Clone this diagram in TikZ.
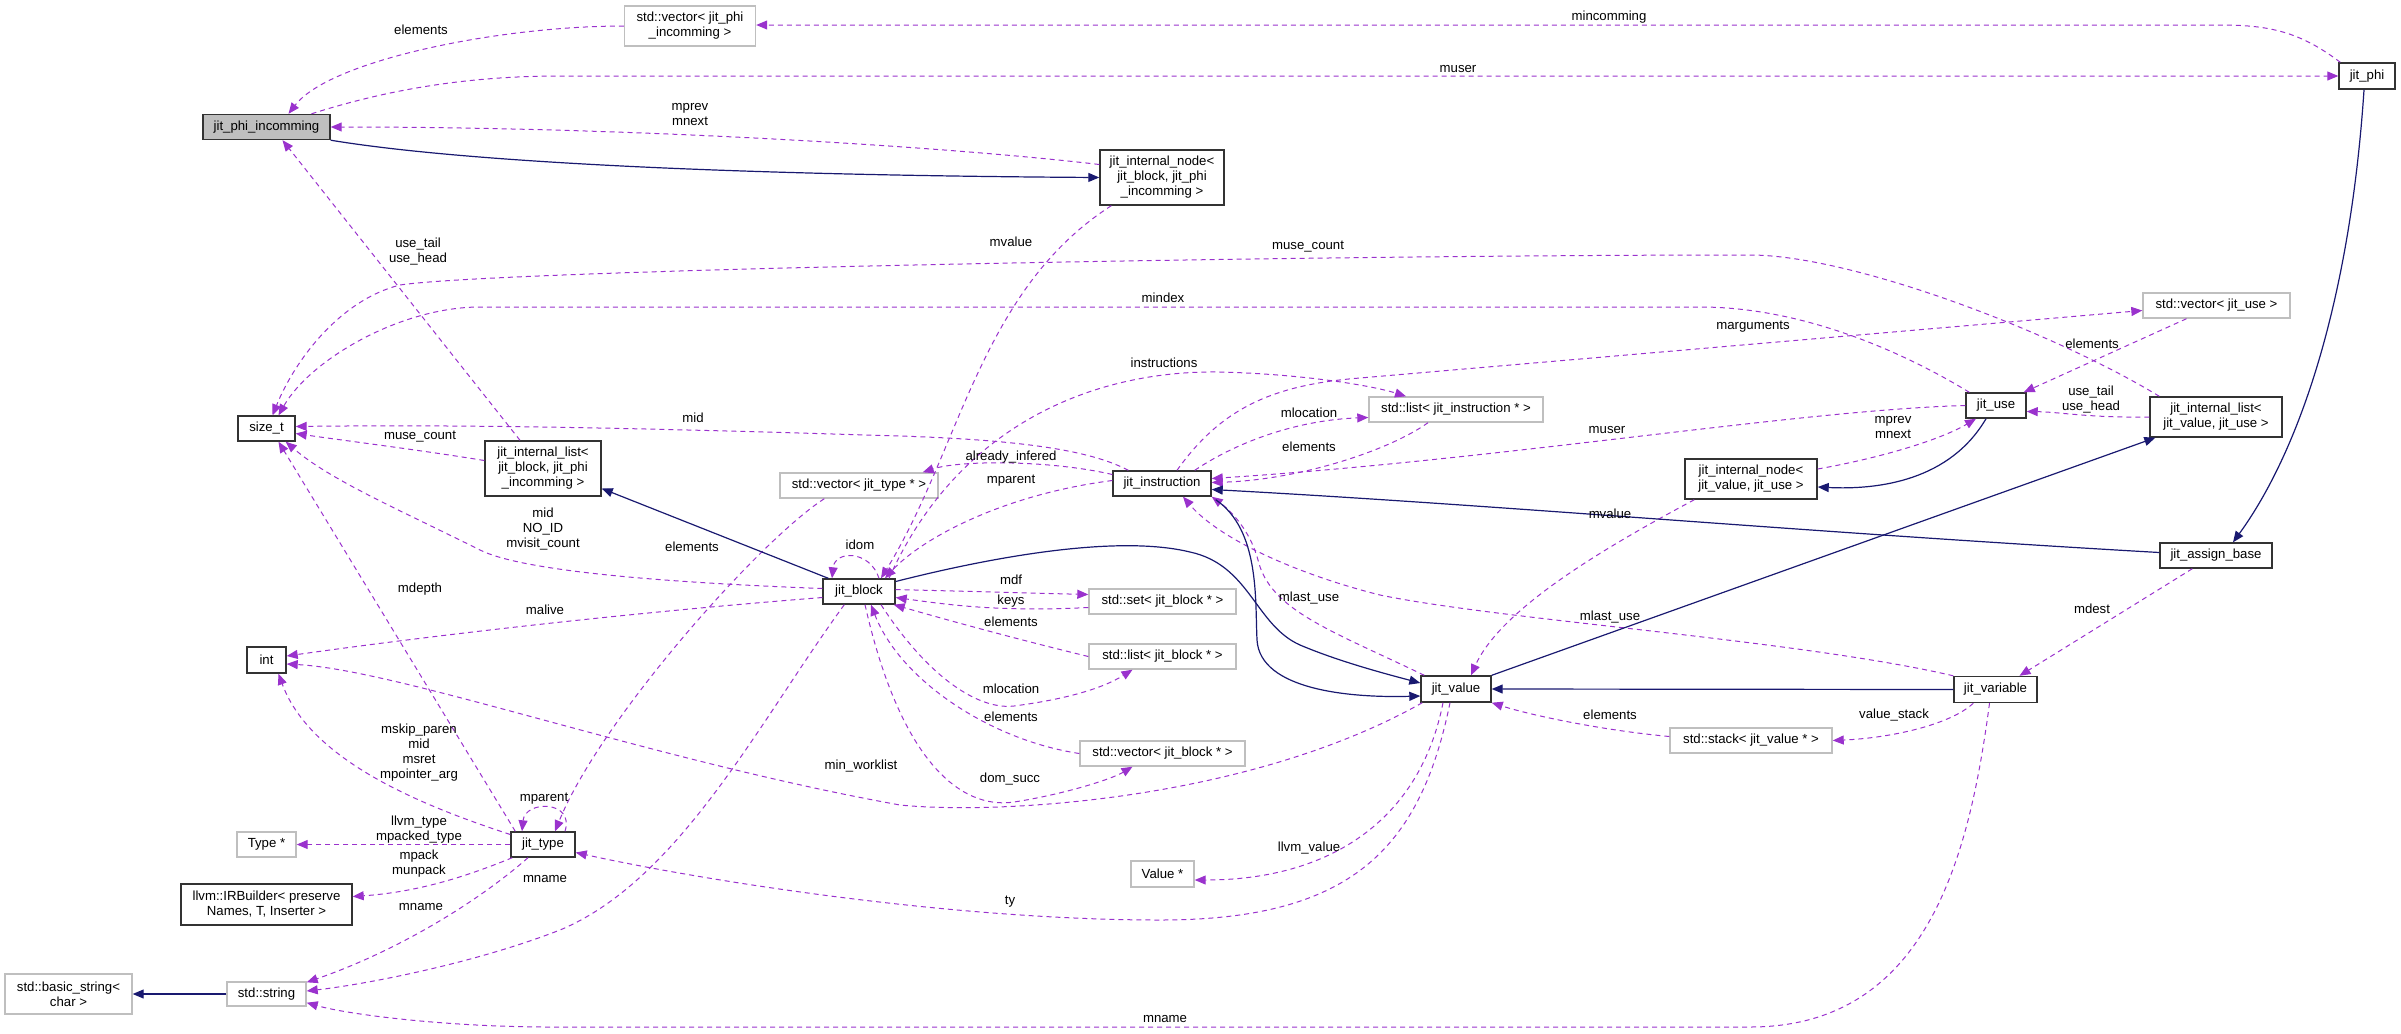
\documentclass[tikz,border=0pt]{standalone}
\usepackage{fontspec}
\setmainfont{Liberation Sans}
\usetikzlibrary{arrows.meta,calc}
\definecolor{membr}{RGB}{154,50,205}
\definecolor{inhr}{RGB}{25,25,112}

\begin{document}
\begin{tikzpicture}[
    x=.5pt,y=-.5pt,
    every node/.style={font=\fontsize{6.6}{7.5}\selectfont,align=center,inner sep=1pt},
    cls/.style={draw=black!80,line width=.7pt,minimum height=12.5pt},
    ext/.style={draw=black!25,line width=.7pt,minimum height=12.5pt},
    ref/.style={-{Triangle[length=5.5pt,width=4.5pt]},dash pattern=on 2.5pt off 2pt,line width=.5pt,membr},
    inh/.style={-{Triangle[length=5.5pt,width=4.5pt]},line width=.6pt,inhr}
  ]
    \useasboundingbox (0,0) rectangle (2401,1033);
    % classes
    \node[cls,fill=black!25,minimum width=63.5pt] (pi) at (266.5,127) {jit\_phi\_incomming};
    \node[ext,minimum width=65.5pt,minimum height=20pt] (vpi) at (690,26) {std::vector< jit\_phi\\\_incomming >};
    \node[cls,minimum width=62pt,minimum height=27.5pt] (inb) at (1162,177.5) {jit\_internal\_node<\\jit\_block, jit\_phi\\\_incomming >};
    \node[cls,minimum width=28pt,minimum height=13pt] (phi) at (2367,76) {jit\_phi};
    \node[ext,minimum width=73.5pt] (vuse) at (2216.5,305.5) {std::vector< jit\_use >};
    \node[cls,minimum width=28.5pt] (sz) at (266.5,428.5) {size\_t};
    \node[cls,minimum width=58pt,minimum height=27.5pt] (lb) at (543,468.5) {jit\_internal\_list<\\jit\_block, jit\_phi\\\_incomming >};
    \node[cls,minimum width=19.5pt,minimum height=13pt] (int) at (266.5,660) {int};
    \node[ext,minimum width=79pt] (vty) at (859,485.5) {std::vector< jit\_type * >};
    \node[cls,minimum width=49pt] (ins) at (1162,483.5) {jit\_instruction};
    \node[ext,minimum width=87pt] (lins) at (1456,409.5) {std::list< jit\_instruction * >};
    \node[cls,minimum width=36pt] (blk) at (859,591.5) {jit\_block};
    \node[ext,minimum width=73.5pt] (sblk) at (1162.5,601.5) {std::set< jit\_block * >};
    \node[ext,minimum width=73.5pt] (lblk) at (1162.5,656.5) {std::list< jit\_block * >};
    \node[cls,minimum width=35pt,minimum height=13pt] (val) at (1456,689) {jit\_value};
    \node[cls,minimum width=30pt] (use) at (1996,405.5) {jit\_use};
    \node[cls,minimum width=66pt,minimum height=20pt] (lv) at (2216,417) {jit\_internal\_list<\\jit\_value, jit\_use >};
    \node[cls,minimum width=66pt,minimum height=20pt] (nv) at (1751,479) {jit\_internal\_node<\\jit\_value, jit\_use >};
    \node[cls,minimum width=56pt] (asg) at (2216,555.5) {jit\_assign\_base};
    \node[cls,minimum width=41.5pt,minimum height=13pt] (var) at (1995.5,689.5) {jit\_variable};
    \node[ext,minimum width=29.5pt] (typ) at (266.5,844.5) {Type *};
    \node[cls,minimum width=32pt] (jty) at (543,844.5) {jit\_type};
    \node[cls,minimum width=85.5pt,minimum height=20.5pt] (irb) at (266.5,904.5) {llvm::IRBuilder< preserve\\Names, T, Inserter >};
    \node[ext,minimum width=63.5pt,minimum height=20pt] (bstr) at (68.5,994) {std::basic\_string<\\char >};
    \node[ext,minimum width=39.5pt,minimum height=12pt] (str) at (266.5,994) {std::string};
    \node[ext,minimum width=82.5pt] (vblk) at (1162.5,753.5) {std::vector< jit\_block * >};
    \node[ext,minimum width=31.5pt,minimum height=13pt] (valp) at (1162.5,874) {Value *};
    \node[ext,minimum width=81pt] (stk) at (1751,740.5) {std::stack< jit\_value * >};
    % members
    \draw[ref] (vpi.west) .. controls (500,26) and (330,60) .. ($(pi.north)+(22,0)$);
    \draw[ref] ($(phi.north west)+(2,0)$) .. controls (2300,32) and (2270,25) .. (2220,25) -- ($(vpi.east)+(0,-1)$);
    \draw[ref] ($(pi.north)+(45,0)$) .. controls (380,92) and (460,76) .. (560,76) -- (phi.west);
    \draw[ref] ($(inb.west)+(0,-13)$) .. controls (960,148) and (650,127) .. (pi.east);
    \draw[ref] ($(lb.north)+(-23,0)$) -- ($(pi.south)+(16,0)$);
    \draw[ref] ($(inb.south west)+(12,0)$) .. controls (980,290) and (960,450) .. ($(blk.north)+(22,0)$);
    \draw[ref] ($(use.north west)+(4,0)$) .. controls (1900,350) and (1800,307) .. (1700,307) -- (480,307) .. controls (400,307) and (310,360) .. ($(sz.north)+(12,0)$);
    \draw[ref] ($(lv.north west)+(10,0)$) .. controls (2050,330) and (1850,255) .. (1750,255) .. controls (1300,255) and (500,270) .. (400,285) .. controls (340,300) and (295,360) .. ($(sz.north)+(6,0)$);
    \draw[ref] ($(ins.north)+(15,0)$) .. controls (1220,410) and (1270,385) .. (1360,378) -- ($(vuse.west)+(0,5)$);
    \draw[ref] ($(vuse.south)+(-30,0)$) -- ($(use.north east)+(-3,0)$);
    \draw[ref] (lv.west) .. controls (2090,418) and (2060,412) .. ($(use.east)+(0,6)$);
    \draw[ref] (use.west) .. controls (1800,410) and (1500,460) .. ($(ins.east)+(0,-5)$);
    \draw[ref] ($(lins.south)+(-28,0)$) .. controls (1390,450) and (1300,480) .. ($(ins.east)+(0,-1)$);
    \draw[ref] ($(ins.north east)+(-17,0)$) .. controls (1240,440) and (1300,420) .. ($(lins.west)+(0,8)$);
    \draw[ref] ($(blk.north)+(30,0)$) .. controls (960,420) and (1100,370) .. (1220,372) .. controls (1300,374) and (1370,385) .. ($(lins.north)+(-50,0)$);
    \draw[ref] ($(ins.west)+(0,-3)$) .. controls (1000,495) and (920,540) .. ($(blk.north)+(26,0)$);
    \draw[ref] ($(ins.west)+(0,-9)$) .. controls (1050,460) and (960,460) .. ($(vty.north east)+(-16,0)$);
    \draw[ref] ($(ins.north west)+(16,0)$) .. controls (1090,450) and (1020,440) .. (900,436) .. controls (700,430) and (500,424) .. ($(sz.east)+(0,-2)$);
    \draw[ref] ($(lb.west)+(0,-8)$) .. controls (420,450) and (340,440) .. ($(sz.east)+(0,5)$);
    \draw[ref] ($(blk.west)+(0,-3)$) .. controls (650,582) and (520,570) .. (480,550) .. controls (400,510) and (330,480) .. ($(sz.south east)+(-10,0)$);
    \draw[ref] ($(blk.west)+(0,6)$) .. controls (600,615) and (400,640) .. ($(int.east)+(0,-4)$);
    \draw[ref] ($(val.south west)+(2,0)$) .. controls (1250,800) and (1000,815) .. (900,805) .. controls (650,760) and (400,670) .. ($(int.east)+(0,4)$);
    \draw[ref] ($(jty.north west)+(5,0)$) -- ($(sz.south)+(12,0)$);
    \draw[ref] ($(jty.west)+(0,-10)$) .. controls (420,805) and (310,760) .. ($(int.south)+(12,0)$);
    \draw[ref] ($(jty.north)+(22,0)$) .. controls (575,800) and (525,800) .. ($(jty.north)+(-21,0)$);
    \draw[ref] ($(vty.south west)+(45,0)$) .. controls (760,540) and (600,720) .. ($(jty.north)+(12,0)$);
    \draw[ref] (jty.west) -- (typ.east);
    \draw[ref] ($(jty.south west)+(2,0)$) .. controls (470,875) and (420,892) .. ($(irb.east)+(0,-8)$);
    \draw[ref] ($(jty.south)+(-15,0)$) .. controls (480,900) and (400,950) .. ($(str.north east)+(0,1)$);
    \draw[ref] ($(blk.south west)+(22,0)$) .. controls (760,720) and (680,880) .. (560,930) .. controls (470,965) and (360,985) .. ($(str.east)+(0,-3)$);
    \draw[ref] ($(var.south)+(-6,0)$) .. controls (1970,850) and (1930,1027) .. (1750,1027) -- (550,1027) .. controls (450,1027) and (350,1015) .. ($(str.south east)+(0,-4)$);
    \draw[ref] ($(val.south)+(-6,0)$) .. controls (1420,850) and (1350,920) .. (1160,920) .. controls (950,920) and (700,880) .. ($(jty.east)+(0,8)$);
    \draw[ref] ($(val.south)+(-13,0)$) .. controls (1420,820) and (1330,880) .. ($(valp.east)+(0,6)$);
    \draw[ref] ($(blk.south)+(6,0)$) .. controls (900,760) and (960,810) .. (1014,802) .. controls (1060,795) and (1110,780) .. ($(vblk.south)+(-30,0)$);
    \draw[ref] (vblk.west) .. controls (990,740) and (900,680) .. ($(blk.south)+(12,0)$);
    \draw[ref] ($(blk.south)+(22,0)$) .. controls (930,680) and (980,710) .. (1014,706) .. controls (1060,700) and (1100,690) .. ($(lblk.south)+(-30,0)$);
    \draw[ref] (lblk.west) .. controls (1000,635) and (930,615) .. ($(blk.south east)+(-2,0)$);
    \draw[ref] ($(blk.east)+(0,-2)$) -- ($(sblk.west)+(0,-7)$);
    \draw[ref] ($(sblk.west)+(0,6)$) .. controls (1000,612) and (950,605) .. ($(blk.east)+(0,6)$);
    \draw[ref] ($(blk.north)+(20,0)$) .. controls (870,550) and (835,550) .. ($(blk.north)+(-27,0)$);
    \draw[ref] ($(val.north west)+(4,0)$) .. controls (1330,630) and (1270,610) .. (1258,560) .. controls (1250,530) and (1230,510) .. (ins.south east);
    \draw[ref] (var.north west) .. controls (1800,640) and (1500,620) .. (1380,595) .. controls (1300,575) and (1220,540) .. ($(ins.south)+(21,0)$);
    \draw[ref] ($(nv.east)+(0,-10)$) .. controls (1880,458) and (1940,440) .. ($(use.south)+(-20,0)$);
    \draw[ref] ($(nv.south west)+(10,0)$) .. controls (1600,550) and (1500,610) .. ($(val.north)+(15,0)$);
    \draw[ref] ($(stk.west)+(0,-4)$) .. controls (1600,730) and (1530,715) .. (val.south east);
    \draw[ref] ($(var.south west)+(20,0)$) .. controls (1950,725) and (1890,738) .. (stk.east);
    \draw[ref] ($(asg.south west)+(33,0)$) -- ($(var.north)+(24,0)$);
    % inheritance
    \draw[inh] (pi.south east) .. controls (450,160) and (700,175) .. (inb.west);
    \draw[inh] ($(blk.north west)+(6,0)$) -- ($(lb.east)+(0,20)$);
    \draw[inh] ($(blk.east)+(0,-10)$) .. controls (1000,555) and (1120,535) .. (1190,552) .. controls (1250,565) and (1255,625) .. (1300,645) .. controls (1340,662) and (1390,675) .. ($(val.west)+(0,-6)$);
    \draw[inh] ($(ins.south east)+(4,3)$) .. controls (1260,530) and (1255,600) .. (1257,640) .. controls (1260,690) and (1350,698) .. ($(val.west)+(0,7)$);
    \draw[inh] ($(use.south)+(-10,0)$) .. controls (1950,480) and (1880,490) .. ($(nv.east)+(0,8)$);
    \draw[inh] (val.north east) -- ($(lv.south west)+(6,0)$);
    \draw[inh] ($(asg.west)+(0,-3)$) .. controls (1800,532) and (1500,505) .. ($(ins.east)+(0,6)$);
    \draw[inh] ($(phi.south)+(-3,0)$) .. controls (2350,300) and (2300,450) .. ($(asg.north)+(17,0)$);
    \draw[inh] (var.west) -- (val.east);
    \draw[inh] (str.west) -- (bstr.east);
    % member names
    \foreach \x/\y/\t [count=\i] in {421/30/elements, 1609/17/mincomming, 1458/69/muser,
        690/114.5/mprev\\mnext, 418/251.5/use\_tail\\use\_head, 1011/242/mvalue,
        1308/247/muse\_count, 1163/298/mindex, 1753/327/marguments, 2092/344/elements,
        693/418/mid, 420/437/muse\_count, 543/529/mid\\NO\_ID\\mvisit\_count,
        692/547/elements, 420/589/mdepth, 545/610/malive, 1164/363/instructions,
        1309/413/mlocation, 1309/447/elements, 1011/457/already\_infered, 1011/481/mparent,
        860/545/idom, 1011/580/mdf, 1011/601/keys, 1011/622/elements, 1309/598/mlast\_use,
        1011/689/mlocation, 2091/400/use\_tail\\use\_head, 1893/428/mprev\\mnext,
        1607/430/muser, 1610/514/mvalue, 1610/617/mlast\_use, 2092/609/mdest,
        419/753/mskip\_paren\\mid\\msret\\mpointer\_arg, 544/799/mparent,
        419/829.5/llvm\_type\\mpacked\_type, 419/864/mpack\\munpack, 545/879/mname,
        421/907/mname, 1011/717/elements, 861/766/min\_worklist, 1010/779/dom\_succ,
        1309/848/llvm\_value, 1010/902/ty, 1165/1019/mname, 1610/715/elements,
        1894/715/value\_stack}
      {\node (m\i) at (\x,\y) {\t};}
\end{tikzpicture}
\end{document}
